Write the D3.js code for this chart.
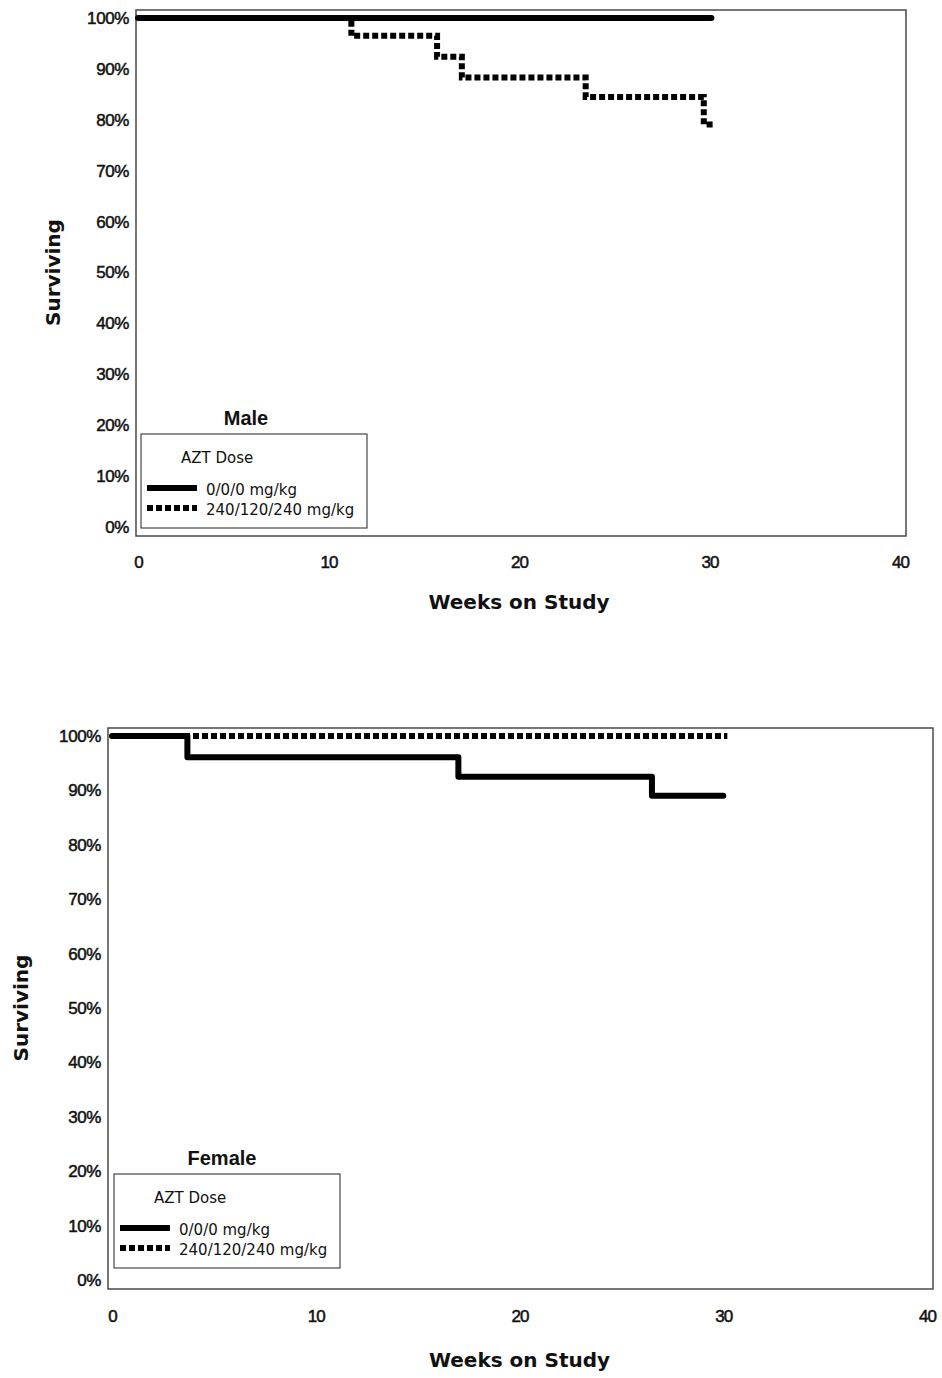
<!DOCTYPE html>
<html>
<head>
<meta charset="utf-8">
<script src="https://cdn.jsdelivr.net/npm/d3@7"></script>
<style>
  html, body { margin: 0; padding: 0; background: #fff; }
  svg { display: block; }
</style>
</head>
<body>
<svg id="chart" width="942" height="1378"></svg>
<script>
// ---- Data ----
const xTicks = [0, 10, 20, 30, 40];
const yTicks = [0, 10, 20, 30, 40, 50, 60, 70, 80, 90, 100];
const doseLabels = ["0/0/0 mg/kg", "240/120/240 mg/kg"];
const legendTitle = "AZT Dose";

const maleControlWeeks = [0, 30.1];
const maleControlSurv  = [100, 100];
const maleHighWeeks = [0, 11.2, 15.7, 17.0, 23.5, 29.7, 30.3];
const maleHighSurv  = [100, 96.5, 92.4, 88.3, 84.5, 79.1, 79.1];

const femaleControlWeeks = [0, 3.7, 17.0, 26.5, 30.0];
const femaleControlSurv  = [100, 96.1, 92.5, 89.0, 89.0];
const femaleHighWeeks = [0, 30.2];
const femaleHighSurv  = [100, 100];

const zip = (w, s) => w.map((d, i) => ({ w: d, s: s[i] }));

const svg = d3.select("#chart");

function drawChart(cfg) {
  const g = svg.append("g");
  const x = d3.scaleLinear().domain([0, 40]).range([cfg.x0, cfg.x40]);
  const y = d3.scaleLinear().domain([0, 100]).range([cfg.y0, cfg.y100]);

  // plot frame
  g.append("rect")
    .attr("x", cfg.box[0]).attr("y", cfg.box[1])
    .attr("width", cfg.box[2] - cfg.box[0]).attr("height", cfg.box[3] - cfg.box[1])
    .attr("fill", "none").attr("stroke", "#4a4a4a").attr("stroke-width", 1.5);

  // y axis labels
  const yAxis = d3.axisLeft(y).tickValues(yTicks).tickSize(0).tickPadding(0)
    .tickFormat(d => d + "%");
  const ya = g.append("g").attr("transform", `translate(${cfg.yLabelX},0)`).call(yAxis);
  ya.select(".domain").remove();
  ya.selectAll("text")
    .attr("font-family", "'Liberation Sans', Arial, sans-serif")
    .attr("font-size", 17).attr("fill", "#111")
    .attr("stroke", "#111").attr("stroke-width", 0.5)
    .attr("letter-spacing", -0.4);

  // x axis labels
  const xAxis = d3.axisBottom(x).tickValues(xTicks).tickSize(0).tickPadding(0);
  const xa = g.append("g").attr("transform", `translate(0,${cfg.xLabelY})`).call(xAxis);
  xa.select(".domain").remove();
  xa.selectAll("text")
    .attr("dy", 0)
    .attr("font-family", "'Liberation Sans', Arial, sans-serif")
    .attr("font-size", 17).attr("fill", "#111")
    .attr("stroke", "#111").attr("stroke-width", 0.5)
    .attr("letter-spacing", -1);

  // axis titles
  g.append("text")
    .attr("x", (cfg.x0 + cfg.x40) / 2).attr("y", cfg.xTitleY)
    .attr("text-anchor", "middle")
    .attr("font-family", "'DejaVu Sans', Verdana, sans-serif")
    .attr("font-weight", "bold").attr("font-size", 20).attr("fill", "#111")
    .text("Weeks on Study");
  g.append("text")
    .attr("transform", `translate(${cfg.yTitleX},${(cfg.y0 + cfg.y100) / 2}) rotate(-90)`)
    .attr("text-anchor", "middle")
    .attr("font-family", "'DejaVu Sans', Verdana, sans-serif")
    .attr("font-weight", "bold").attr("font-size", 20).attr("fill", "#111")
    .text("Surviving");

  const line = d3.line().x(d => x(d.w)).y(d => y(d.s)).curve(d3.curveStepAfter);

  // dotted (high dose) drawn first
  g.append("path")
    .attr("d", line(zip(cfg.highW, cfg.highS)))
    .attr("fill", "none").attr("stroke", "#000").attr("stroke-width", 6)
    .attr("stroke-dasharray", "6,3");
  g.append("path")
    .attr("d", line(zip(cfg.ctrlW, cfg.ctrlS)))
    .attr("fill", "none").attr("stroke", "#000").attr("stroke-width", 6)
    .attr("stroke-linecap", "round").attr("stroke-linejoin", "round");

  // legend
  const L = cfg.legend;
  g.append("text")
    .attr("x", L.titleX).attr("y", L.titleY).attr("text-anchor", "middle")
    .attr("font-family", "'Liberation Sans', Arial, sans-serif")
    .attr("font-weight", "bold").attr("font-size", 20).attr("fill", "#111")
    .text(cfg.sex);
  g.append("rect")
    .attr("x", L.x).attr("y", L.y).attr("width", 226).attr("height", 94)
    .attr("fill", "#fff").attr("stroke", "#222").attr("stroke-width", 1);
  g.append("text")
    .attr("x", L.x + 40).attr("y", L.y + 29)
    .attr("font-family", "'DejaVu Sans', Verdana, sans-serif")
    .attr("font-size", 15).attr("fill", "#111")
    .text(legendTitle);
  const rows = [{ dash: null, dy: 54 }, { dash: "6,3", dy: 74 }];
  rows.forEach((r, i) => {
    const p = g.append("line")
      .attr("x1", L.x + 6).attr("x2", L.x + 56)
      .attr("y1", L.y + r.dy).attr("y2", L.y + r.dy)
      .attr("stroke", "#000").attr("stroke-width", 6);
    if (r.dash) p.attr("stroke-dasharray", r.dash);
    g.append("text")
      .attr("x", L.x + 65).attr("y", L.y + r.dy + 7)
      .attr("font-family", "'DejaVu Sans', Verdana, sans-serif")
      .attr("font-size", 15).attr("fill", "#111")
      .text(doseLabels[i]);
  });
}

drawChart({
  sex: "Male",
  x0: 138, x40: 900, y0: 527, y100: 18,
  box: [136, 10, 906, 536],
  yLabelX: 129, xLabelY: 568, xTitleY: 609, yTitleX: 60,
  ctrlW: maleControlWeeks, ctrlS: maleControlSurv,
  highW: maleHighWeeks, highS: maleHighSurv,
  legend: { x: 141, y: 434, titleX: 246, titleY: 425 }
});

drawChart({
  sex: "Female",
  x0: 112, x40: 927, y0: 1280, y100: 736,
  box: [108, 728, 933, 1289],
  yLabelX: 101, xLabelY: 1322, xTitleY: 1367, yTitleX: 28,
  ctrlW: femaleControlWeeks, ctrlS: femaleControlSurv,
  highW: femaleHighWeeks, highS: femaleHighSurv,
  legend: { x: 114, y: 1174, titleX: 222, titleY: 1165 }
});
</script>
</body>
</html>
